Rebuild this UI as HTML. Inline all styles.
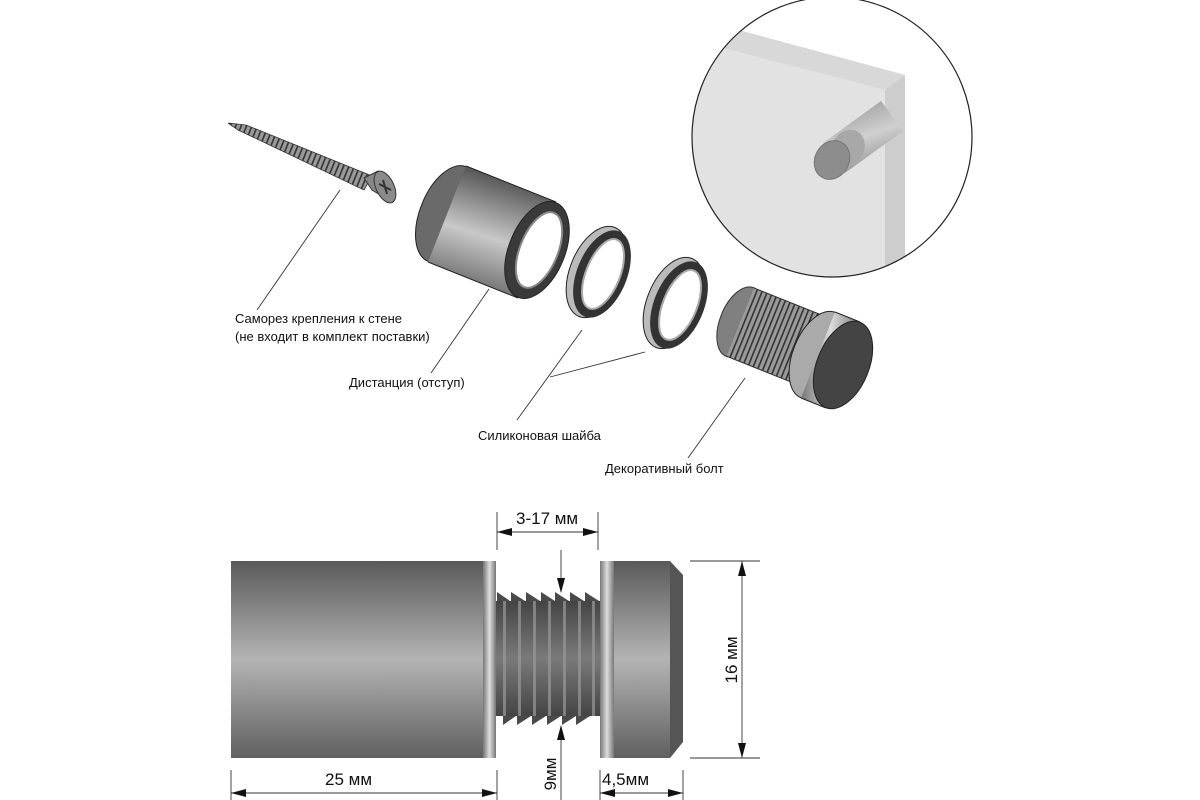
<!DOCTYPE html>
<html><head><meta charset="utf-8"><style>
html,body{margin:0;padding:0;background:#fff}
svg{display:block}
text{font-family:"Liberation Sans","DejaVu Sans",sans-serif;fill:#111}
</style></head><body>
<svg width="1200" height="800" viewBox="0 0 1200 800" xmlns="http://www.w3.org/2000/svg">
<defs>
<linearGradient id="gv" x1="0" y1="0" x2="0" y2="1">
<stop offset="0" stop-color="#5a5a5a"/><stop offset="0.5" stop-color="#b4b4b4"/><stop offset="1" stop-color="#606060"/>
</linearGradient>
<linearGradient id="gh" x1="0" y1="0" x2="1" y2="0">
<stop offset="0" stop-color="#777"/><stop offset="0.5" stop-color="#ddd"/><stop offset="1" stop-color="#777"/>
</linearGradient>
<linearGradient id="gd" x1="0" y1="0" x2="0" y2="1">
<stop offset="0" stop-color="#444"/><stop offset="0.5" stop-color="#7a7a7a"/><stop offset="1" stop-color="#444"/>
</linearGradient>
<linearGradient id="gc" x1="0.3" y1="0" x2="0" y2="1">
<stop offset="0" stop-color="#555"/><stop offset="0.45" stop-color="#c8c8c8"/><stop offset="1" stop-color="#4a4a4a"/>
</linearGradient>
<linearGradient id="gp" x1="0.3" y1="0" x2="0.7" y2="1">
<stop offset="0" stop-color="#999"/><stop offset="0.5" stop-color="#d0d0d0"/><stop offset="1" stop-color="#8a8a8a"/>
</linearGradient>
<pattern id="thr" width="5" height="10" patternUnits="userSpaceOnUse" patternTransform="rotate(22)">
<rect width="5" height="10" fill="#9a9a9a"/><rect width="1.6" height="10" fill="#333"/>
</pattern>
<clipPath id="circ"><circle cx="832" cy="137" r="140"/></clipPath>
</defs>

<!-- detail circle -->
<g clip-path="url(#circ)">
<rect x="680" y="0" width="300" height="280" fill="#fff"/>
<polygon points="680,37 885,90 885,300 680,300" fill="#e2e2e2"/>
<polygon points="680,14 905,75 885,90 680,37" fill="#d8d8d8"/>
<polygon points="885,90 905,75 905,300 885,300" fill="#cdcdcd"/>
<polygon points="823,143 881,101 903,131 845,173" fill="url(#gp)"/>
<ellipse cx="848" cy="148" rx="16" ry="19" transform="rotate(30 848 148)" fill="#a8a8a8"/>
<ellipse cx="832" cy="160" rx="17" ry="20" transform="rotate(30 832 160)" fill="#8d8d8d" stroke="#777"/>
</g>
<circle cx="832" cy="137" r="140" fill="none" stroke="#222" stroke-width="1.2"/>

<!-- screw -->
<polygon points="228,123 246,125 372,176 364,190 238,130" fill="url(#thr)" stroke="#333" stroke-width="0.8"/>
<polygon points="364,178 378,171 392,202 372,190" fill="#888" stroke="#333"/>
<ellipse cx="385" cy="187" rx="9" ry="17" transform="rotate(-25 385 187)" fill="#8a8a8a" stroke="#333"/>
<path d="M379 184 l12 6 M383 180 l4 14" stroke="#333" stroke-width="2"/>

<!-- spacer -->
<ellipse cx="447" cy="214" rx="27" ry="51" transform="rotate(22 447 214)" fill="#6a6a6a" stroke="#222"/>
<polygon points="466,166 556,202 518,298 428,262" fill="url(#gc)"/>
<path d="M466,166 L556,202 M428,262 L518,298" stroke="#222" stroke-width="1"/>
<ellipse cx="537" cy="250" rx="28" ry="51" transform="rotate(22 537 250)" fill="#3a3a3a" stroke="#222"/>
<ellipse cx="539" cy="250" rx="19" ry="40" transform="rotate(22 539 250)" fill="#fff" stroke="#888" stroke-width="2"/>

<!-- ring 1 -->
<ellipse cx="597" cy="272" rx="27" ry="48" transform="rotate(22 597 272)" fill="#bbb" stroke="#222"/>
<ellipse cx="602" cy="274" rx="25" ry="46" transform="rotate(22 602 274)" fill="#333"/>
<ellipse cx="603" cy="274" rx="17" ry="37" transform="rotate(22 603 274)" fill="#fff" stroke="#aaa" stroke-width="2"/>
<!-- ring 2 -->
<ellipse cx="674" cy="303" rx="27" ry="48" transform="rotate(22 674 303)" fill="#bbb" stroke="#222"/>
<ellipse cx="679" cy="305" rx="25" ry="46" transform="rotate(22 679 305)" fill="#333"/>
<ellipse cx="680" cy="305" rx="17" ry="37" transform="rotate(22 680 305)" fill="#fff" stroke="#aaa" stroke-width="2"/>

<!-- bolt -->
<ellipse cx="740" cy="322" rx="20" ry="37" transform="rotate(22 740 322)" fill="#808080" stroke="#333"/>
<polygon points="754,288 824,316 796,384 726,356" fill="url(#thr)"/>
<path d="M754,288 L824,316 M726,356 L796,384" stroke="#333"/>
<ellipse cx="818" cy="355" rx="25" ry="46" transform="rotate(22 818 355)" fill="#aaa" stroke="#222"/>
<polygon points="835,312 860,322 826,408 801,398" fill="url(#gh)"/>
<path d="M835,312 L860,322 M801,398 L826,408" stroke="#222"/>
<ellipse cx="843" cy="365" rx="26" ry="46" transform="rotate(22 843 365)" fill="#444" stroke="#222"/>

<!-- leaders -->
<g stroke="#333" stroke-width="0.9" fill="none">
<line x1="340" y1="190" x2="257" y2="310"/>
<line x1="489" y1="289" x2="431" y2="373"/>
<line x1="582" y1="330" x2="517" y2="420"/>
<line x1="550" y1="377" x2="645" y2="352"/>
<line x1="745" y1="378" x2="688" y2="458"/>
</g>
<g font-size="13">
<text x="235" y="323">Саморез крепления к стене</text>
<text x="235" y="341">(не входит в комплект поставки)</text>
<text x="349" y="387">Дистанция (отступ)</text>
<text x="478" y="440">Силиконовая шайба</text>
<text x="605" y="473">Декоративный болт</text>
</g>

<!-- bottom drawing -->
<rect x="231" y="561" width="252" height="197" fill="url(#gv)"/>
<rect x="483" y="561" width="13" height="197" fill="url(#gh)"/>
<rect x="496" y="601" width="104" height="115" fill="url(#gd)"/>
<g fill="#4a4a4a">
<polygon points="497,592 510,601 497,601"/><polygon points="511,592 525,601 511,601"/><polygon points="526,592 540,601 526,601"/><polygon points="541,592 555,601 541,601"/><polygon points="555,592 569,601 555,601"/><polygon points="570,592 584,601 570,601"/><polygon points="585,592 599,601 585,601"/>
<polygon points="503,716 516,716 503,725"/><polygon points="517,716 531,716 517,725"/><polygon points="532,716 546,716 532,725"/><polygon points="547,716 561,716 547,725"/><polygon points="562,716 576,716 562,725"/><polygon points="576,716 590,716 576,725"/>
</g>
<g fill="#999" opacity="0.7">
<rect x="503" y="601" width="3" height="115"/><rect x="518" y="601" width="3" height="115"/><rect x="533" y="601" width="3" height="115"/><rect x="548" y="601" width="3" height="115"/><rect x="563" y="601" width="3" height="115"/><rect x="578" y="601" width="3" height="115"/><rect x="592" y="601" width="3" height="115"/>
</g>
<rect x="600" y="561" width="14" height="197" fill="url(#gh)"/>
<rect x="614" y="561" width="56" height="197" fill="url(#gv)"/>
<polygon points="670,561 683,575 683,742 670,758" fill="#555"/>

<!-- dimensions -->
<g stroke="#333" stroke-width="0.9" fill="none">
<line x1="497" y1="512" x2="497" y2="550"/><line x1="598" y1="512" x2="598" y2="550"/>
<line x1="497" y1="532" x2="598" y2="532"/>
<line x1="690" y1="561" x2="760" y2="561"/><line x1="690" y1="758" x2="760" y2="758"/>
<line x1="742" y1="561" x2="742" y2="758"/>
<line x1="231" y1="770" x2="231" y2="800"/><line x1="497" y1="770" x2="497" y2="800"/>
<line x1="231" y1="793" x2="497" y2="793"/>
<line x1="600" y1="770" x2="600" y2="800"/><line x1="683" y1="770" x2="683" y2="800"/>
<line x1="600" y1="793" x2="683" y2="793"/>
<line x1="561" y1="550" x2="561" y2="592"/>
<line x1="561" y1="726" x2="561" y2="800"/>
</g>
<g fill="#111">
<polygon points="497,532 512,528 512,536"/><polygon points="598,532 583,528 583,536"/>
<polygon points="742,561 738,576 746,576"/><polygon points="742,758 738,743 746,743"/>
<polygon points="231,793 246,789 246,797"/><polygon points="497,793 482,789 482,797"/>
<polygon points="600,793 615,789 615,797"/><polygon points="683,793 668,789 668,797"/>
<polygon points="561,593 557,578 565,578"/><polygon points="561,725 557,740 565,740"/>
</g>
<g font-size="17">
<text x="516" y="524">3-17 мм</text>
<text x="325" y="785">25 мм</text>
<text x="602" y="785">4,5мм</text>
<text transform="translate(737,660) rotate(-90)" text-anchor="middle">16 мм</text>
<text transform="translate(556,774) rotate(-90)" text-anchor="middle">9мм</text>
</g>
</svg>
</body></html>
